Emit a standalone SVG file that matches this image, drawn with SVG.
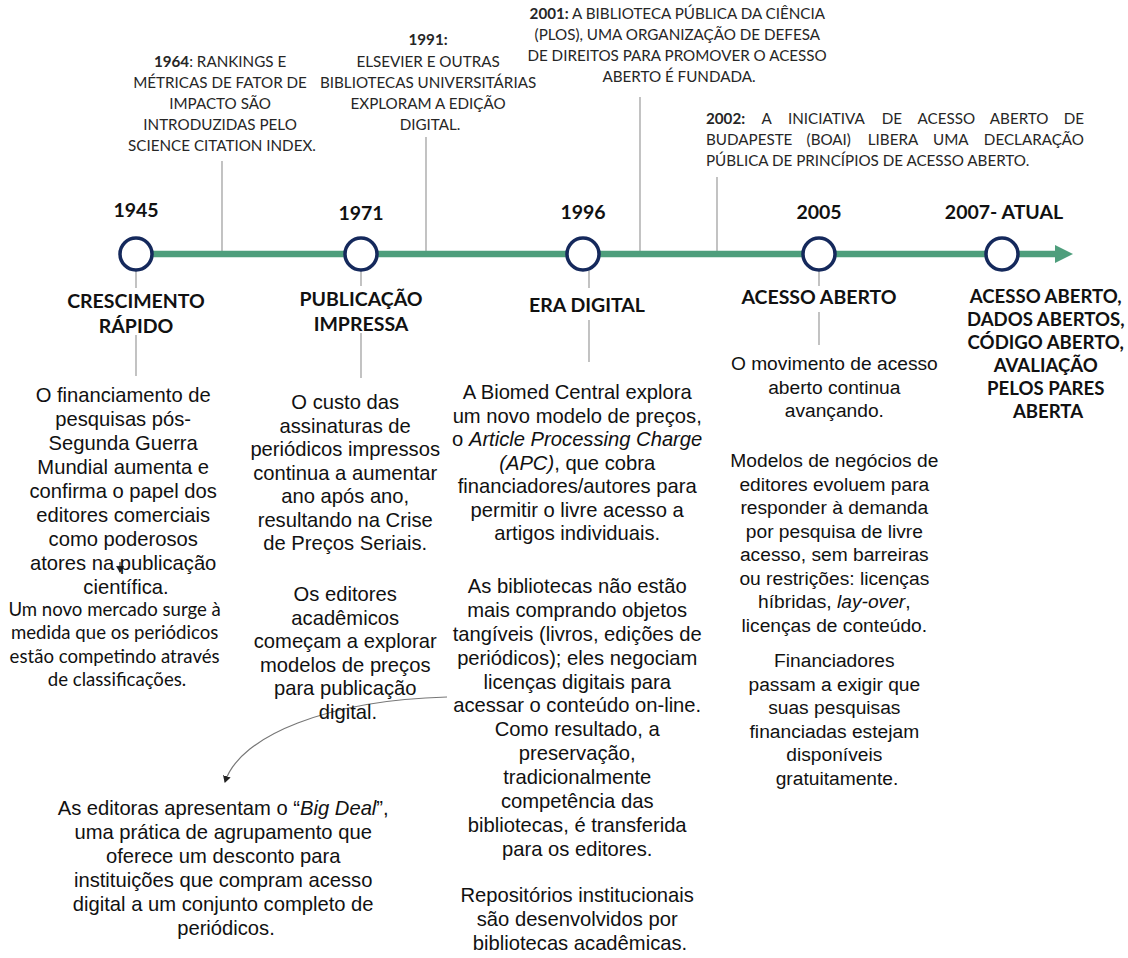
<svg xmlns="http://www.w3.org/2000/svg" width="1128" height="958" viewBox="0 0 1128 958">
<style>
.top{font-family:Lato,"Liberation Sans",sans-serif;font-size:15.2px;fill:#262626;text-anchor:middle}
.topj{font-family:Lato,"Liberation Sans",sans-serif;font-size:15.2px;fill:#262626}
.b{font-weight:700}
.lbl{font-family:Lato,"Liberation Sans",sans-serif;font-weight:700;font-size:19.5px;fill:#111;text-anchor:middle}
.lbl2{font-family:Lato,"Liberation Sans",sans-serif;font-weight:700;font-size:18.6px;fill:#111;text-anchor:middle}
.body{font-family:"Liberation Sans",Arial,sans-serif;font-size:20.2px;fill:#111;text-anchor:middle}
.body2{font-family:"Liberation Sans",Arial,sans-serif;font-size:19.2px;fill:#111;text-anchor:middle}
.cal{font-family:Lato,"Liberation Sans",sans-serif;font-size:18.6px;fill:#111;text-anchor:middle}
.it{font-style:italic}
.conn{stroke:#9a9a9a;stroke-width:1.2;fill:none}
.node{fill:#fff;stroke:#15295c;stroke-width:3.5}
</style>
<defs>
<marker id="ah" markerWidth="8" markerHeight="8" refX="6" refY="4" orient="auto" markerUnits="userSpaceOnUse">
<path d="M0,0 L7,4 L0,8 z" fill="#222"/>
</marker>
</defs>
<rect width="1128" height="958" fill="#fff"/>

<g id="connectors">
<line class="conn" x1="222" y1="161" x2="222" y2="251"/>
<line class="conn" x1="426" y1="137" x2="426" y2="251"/>
<line class="conn" x1="640" y1="97" x2="640" y2="251"/>
<line class="conn" x1="717" y1="177" x2="717" y2="251"/>
<line class="conn" x1="136" y1="271" x2="136" y2="288"/>
<line class="conn" x1="136" y1="335" x2="136" y2="376"/>
<line class="conn" x1="361" y1="271" x2="361" y2="286"/>
<line class="conn" x1="361" y1="333" x2="361" y2="378"/>
<line class="conn" x1="589" y1="271" x2="589" y2="288"/>
<line class="conn" x1="589" y1="320" x2="589" y2="362"/>
<line class="conn" x1="819" y1="271" x2="819" y2="286"/>
<line class="conn" x1="819" y1="312" x2="819" y2="345"/>
<path d="M447,697 C330,700 240,735 225,782" stroke="#777" stroke-width="1.2" fill="none" marker-end="url(#ah)"/>
<line x1="120" y1="562" x2="120" y2="572" stroke="#333" stroke-width="1.2" marker-end="url(#ah)"/>
</g>

<g id="timeline">
<line x1="150" y1="254" x2="1058" y2="254" stroke="#4e9e7c" stroke-width="6.5"/>
<polygon points="1055,245 1073,254 1055,263" fill="#4e9e7c"/>
</g>

<g id="n1945">
<text class="lbl" x="136" y="217">1945</text>
<circle class="node" cx="136" cy="254" r="16"/>
<text class="lbl" x="136" y="308">CRESCIMENTO</text>
<text class="lbl" x="136" y="333">RÁPIDO</text>
<text class="body">
<tspan x="126" y="402">O financiamento de</tspan>
<tspan x="126" y="426">pesquisas pós-</tspan>
<tspan x="126" y="450">Segunda Guerra</tspan>
<tspan x="126" y="474">Mundial aumenta e</tspan>
<tspan x="126" y="498">confirma o papel dos</tspan>
<tspan x="126" y="522">editores comerciais</tspan>
<tspan x="126" y="546">como poderosos</tspan>
<tspan x="126" y="570">atores na publicação</tspan>
<tspan x="126" y="594">científica.</tspan>
</text>
<text class="cal">
<tspan x="117" y="616">Um novo mercado surge à</tspan>
<tspan x="117" y="639">medida que os periódicos</tspan>
<tspan x="117" y="663">estão competindo através</tspan>
<tspan x="117" y="686">de classificações.</tspan>
</text>
</g>

<g id="e1964">
<text class="top">
<tspan x="222" y="67"><tspan class="b">1964</tspan>: RANKINGS E</tspan>
<tspan x="222" y="88">MÉTRICAS DE FATOR DE</tspan>
<tspan x="222" y="109">IMPACTO SÃO</tspan>
<tspan x="222" y="130">INTRODUZIDAS PELO</tspan>
<tspan x="222" y="151">SCIENCE CITATION INDEX.</tspan>
</text>
</g>

<g id="n1971">
<text class="lbl" x="361" y="220">1971</text>
<circle class="node" cx="361" cy="254" r="16"/>
<text class="lbl" x="361" y="306">PUBLICAÇÃO</text>
<text class="lbl" x="361" y="331">IMPRESSA</text>
<text class="body">
<tspan x="348" y="409">O custo das</tspan>
<tspan x="348" y="432.5">assinaturas de</tspan>
<tspan x="348" y="456">periódicos impressos</tspan>
<tspan x="348" y="479.5">continua a aumentar</tspan>
<tspan x="348" y="503">ano após ano,</tspan>
<tspan x="348" y="526.5">resultando na Crise</tspan>
<tspan x="348" y="550">de Preços Seriais.</tspan>
<tspan x="348" y="601">Os editores</tspan>
<tspan x="348" y="624.5">acadêmicos</tspan>
<tspan x="348" y="648">começam a explorar</tspan>
<tspan x="348" y="671.5">modelos de preços</tspan>
<tspan x="348" y="695">para publicação</tspan>
<tspan x="348" y="718.5">digital.</tspan>
</text>
</g>

<g id="e1991">
<text class="top">
<tspan x="430" y="45" class="b">1991:</tspan>
<tspan x="430" y="67">ELSEVIER E OUTRAS</tspan>
<tspan x="430" y="88">BIBLIOTECAS UNIVERSITÁRIAS</tspan>
<tspan x="430" y="109">EXPLORAM A EDIÇÃO</tspan>
<tspan x="430" y="130">DIGITAL.</tspan>
</text>
</g>

<g id="bigdeal">
<text class="body">
<tspan x="226" y="815">As editoras apresentam o “<tspan class="it">Big Deal</tspan>”,</tspan>
<tspan x="226" y="839">uma prática de agrupamento que</tspan>
<tspan x="226" y="863">oferece um desconto para</tspan>
<tspan x="226" y="887">instituições que compram acesso</tspan>
<tspan x="226" y="911">digital a um conjunto completo de</tspan>
<tspan x="226" y="935">periódicos.</tspan>
</text>
</g>

<g id="n1996">
<text class="lbl" x="583" y="219">1996</text>
<circle class="node" cx="583" cy="254" r="16"/>
<text class="lbl" x="587" y="312">ERA DIGITAL</text>
<text class="body">
<tspan x="580" y="399">A Biomed Central explora</tspan>
<tspan x="580" y="422.5">um novo modelo de preços,</tspan>
<tspan x="580" y="446">o <tspan class="it">Article Processing Charge</tspan></tspan>
<tspan x="580" y="469.5"><tspan class="it">(APC)</tspan>, que cobra</tspan>
<tspan x="580" y="493">financiadores/autores para</tspan>
<tspan x="580" y="516.5">permitir o livre acesso a</tspan>
<tspan x="580" y="540">artigos individuais.</tspan>
<tspan x="580" y="593">As bibliotecas não estão</tspan>
<tspan x="580" y="617">mais comprando objetos</tspan>
<tspan x="580" y="641">tangíveis (livros, edições de</tspan>
<tspan x="580" y="665">periódicos); eles negociam</tspan>
<tspan x="580" y="689">licenças digitais para</tspan>
<tspan x="580" y="712">acessar o conteúdo on-line.</tspan>
<tspan x="580" y="736">Como resultado, a</tspan>
<tspan x="580" y="760">preservação,</tspan>
<tspan x="580" y="784">tradicionalmente</tspan>
<tspan x="580" y="808">competência das</tspan>
<tspan x="580" y="832">bibliotecas, é transferida</tspan>
<tspan x="580" y="856">para os editores.</tspan>
<tspan x="580" y="902">Repositórios institucionais</tspan>
<tspan x="580" y="926">são desenvolvidos por</tspan>
<tspan x="580" y="950">bibliotecas acadêmicas.</tspan>
</text>
</g>

<g id="e2001">
<text class="top">
<tspan x="679" y="19"><tspan class="b">2001:</tspan> A BIBLIOTECA PÚBLICA DA CIÊNCIA</tspan>
<tspan x="679" y="40">(PLOS), UMA ORGANIZAÇÃO DE DEFESA</tspan>
<tspan x="679" y="61">DE DIREITOS PARA PROMOVER O ACESSO</tspan>
<tspan x="679" y="82">ABERTO É FUNDADA.</tspan>
</text>
</g>

<g id="e2002">
<text class="topj" y="124">
<tspan x="706" class="b">2002:</tspan>
<tspan x="761.6">A</tspan>
<tspan x="788">INICIATIVA</tspan>
<tspan x="881.7">DE</tspan>
<tspan x="917.5">ACESSO</tspan>
<tspan x="989.8">ABERTO</tspan>
</text>
<text class="topj" x="1084" y="124" text-anchor="end">DE</text>
<text class="topj" y="145">
<tspan x="706">BUDAPESTE</tspan>
<tspan x="806.6">(BOAI)</tspan>
<tspan x="867.8">LIBERA</tspan>
<tspan x="933.1">UMA</tspan>
</text>
<text class="topj" x="1084" y="145" text-anchor="end">DECLARAÇÃO</text>
<text class="topj" x="706" y="166">PÚBLICA DE PRINCÍPIOS DE ACESSO ABERTO.</text>
</g>

<g id="n2005">
<text class="lbl" x="819" y="219">2005</text>
<circle class="node" cx="819" cy="254" r="16"/>
<text class="lbl" x="819" y="304">ACESSO ABERTO</text>
<text class="body2">
<tspan x="837" y="370">O movimento de acesso</tspan>
<tspan x="837" y="394">aberto continua</tspan>
<tspan x="837" y="417">avançando.</tspan>
<tspan x="837" y="467">Modelos de negócios de</tspan>
<tspan x="837" y="490.5">editores evoluem para</tspan>
<tspan x="837" y="514">responder à demanda</tspan>
<tspan x="837" y="537.5">por pesquisa de livre</tspan>
<tspan x="837" y="561">acesso, sem barreiras</tspan>
<tspan x="837" y="584.5">ou restrições: licenças</tspan>
<tspan x="837" y="608">híbridas, <tspan class="it">lay-over</tspan>,</tspan>
<tspan x="837" y="631.5">licenças de conteúdo.</tspan>
<tspan x="837" y="667">Financiadores</tspan>
<tspan x="837" y="690.5">passam a exigir que</tspan>
<tspan x="837" y="714">suas pesquisas</tspan>
<tspan x="837" y="737.5">financiadas estejam</tspan>
<tspan x="837" y="761">disponíveis</tspan>
<tspan x="837" y="784.5">gratuitamente.</tspan>
</text>
</g>

<g id="n2007">
<text class="lbl" x="1004" y="219">2007- ATUAL</text>
<circle class="node" cx="1002" cy="254" r="16"/>
<text class="lbl2">
<tspan x="1048" y="303">ACESSO ABERTO,</tspan>
<tspan x="1048" y="326">DADOS ABERTOS,</tspan>
<tspan x="1048" y="349">CÓDIGO ABERTO,</tspan>
<tspan x="1048" y="372">AVALIAÇÃO</tspan>
<tspan x="1048" y="395">PELOS PARES</tspan>
<tspan x="1048" y="418">ABERTA</tspan>
</text>
</g>
</svg>
